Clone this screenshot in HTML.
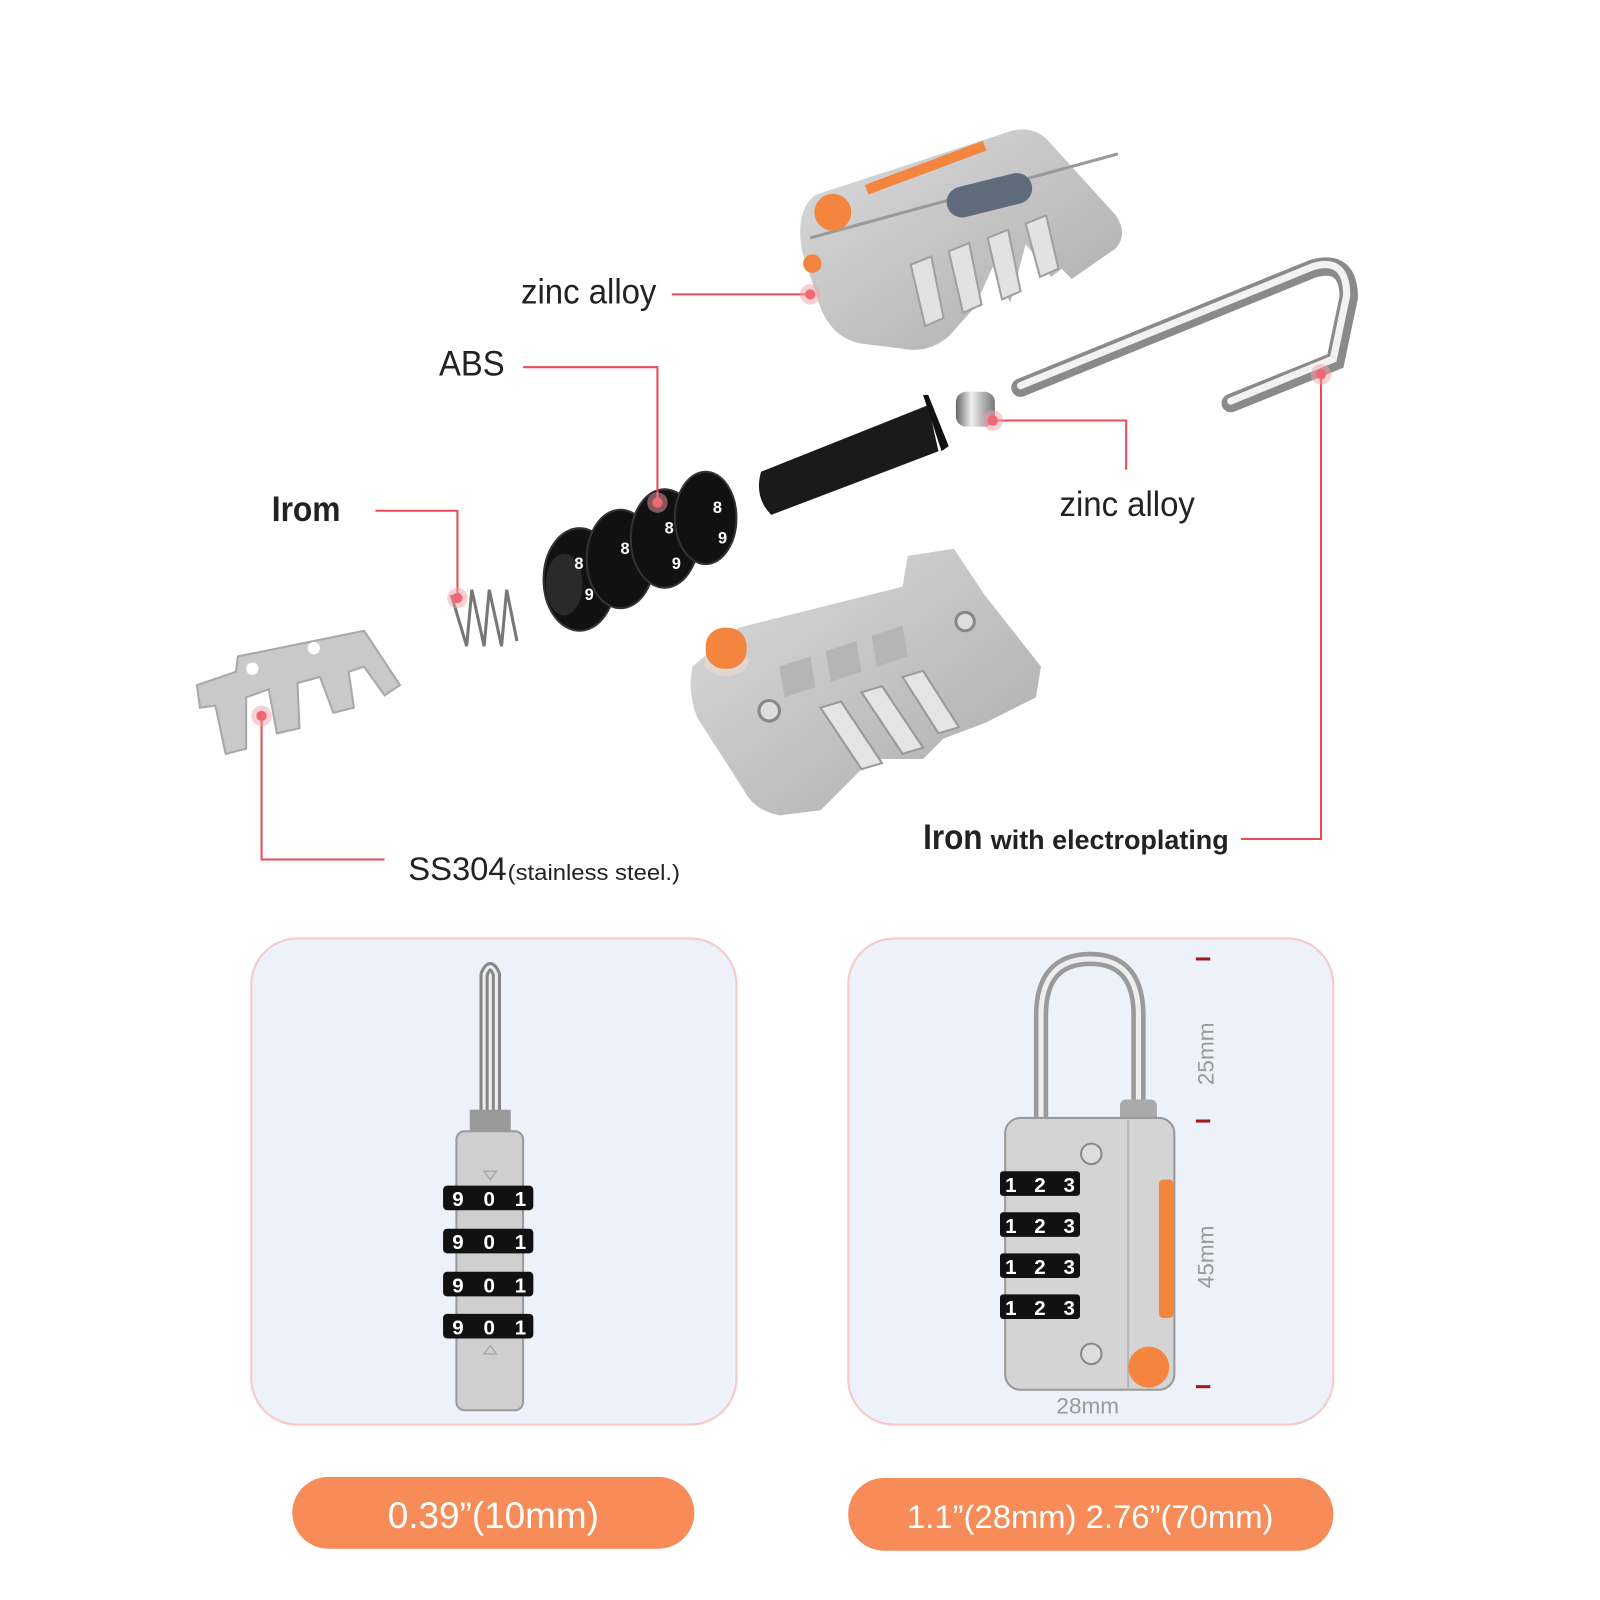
<!DOCTYPE html>
<html><head><meta charset="utf-8"><style>
html,body{margin:0;padding:0;background:#fff}
svg{display:block}
text{font-family:"Liberation Sans",sans-serif}
</style></head><body>
<svg width="1600" height="1600" viewBox="0 0 1560 1560" xmlns="http://www.w3.org/2000/svg">
<defs>
<linearGradient id="gm" x1="0" y1="0" x2="1" y2="1"><stop offset="0" stop-color="#dcdcdc"/><stop offset="1" stop-color="#ababab"/></linearGradient>
<linearGradient id="sh" x1="0" y1="0" x2="1" y2="0"><stop offset="0" stop-color="#666"/><stop offset=".4" stop-color="#eee"/><stop offset="1" stop-color="#777"/></linearGradient>
</defs>
<rect width="1560" height="1560" fill="#fff"/>

<!-- top housing -->
<path d="M795 190 L985 128 Q1005 122 1020 135 L1088 210 Q1100 228 1088 242 L1045 272 L1035 262 L1025 270 L1000 238 L985 295 L968 260 L950 300 L925 328 Q905 345 880 340 L840 335 Q812 330 800 300 L782 245 Q775 205 795 190Z" fill="url(#gm)"/>
<path d="M845 185 L960 142" stroke="#f4853f" stroke-width="10"/>
<path d="M790 232 L1090 150" stroke="#9a9a9a" stroke-width="3"/>
<circle cx="812" cy="207" r="18" fill="#f4853f"/>
<rect x="922" y="176" width="85" height="30" rx="15" fill="#5f6b7a" transform="rotate(-14 962 190)"/>
<g fill="#e2e2e2" stroke="#a0a0a0" stroke-width="2">
<path d="M888 258 l20 -8 l12 60 l-18 8z"/><path d="M925 245 l20 -8 l12 60 l-18 8z"/><path d="M963 232 l20 -8 l12 60 l-18 8z"/><path d="M1000 218 l20 -8 l12 52 l-18 8z"/>
</g>
<circle cx="792" cy="257" r="9" fill="#f4853f"/>

<!-- shackle -->
<path d="M995 378 L1280 262 Q1315 252 1315 290 L1302 352 L1200 393" stroke="#8a8a8a" stroke-width="18" fill="none" stroke-linecap="round"/>
<path d="M995 376 L1280 260 Q1313 250 1313 288 L1300 350 L1200 391" stroke="#f2f2f2" stroke-width="7" fill="none" stroke-linecap="round"/>
<!-- pin -->
<rect x="932" y="382" width="38" height="34" rx="10" fill="url(#sh)"/>
<!-- black cylinder -->
<path d="M742 460 L905 395 L915 440 L752 502 Q735 485 742 460Z" fill="#1a1a1a"/>
<path d="M900 385 L905 385 L925 435 L918 440Z" fill="#111"/>
<!-- dials -->
<g fill="#111" stroke="#333" stroke-width="2">
<ellipse cx="565" cy="565" rx="35" ry="50"/><ellipse cx="605" cy="545" rx="33" ry="48"/><ellipse cx="648" cy="525" rx="33" ry="48"/><ellipse cx="688" cy="505" rx="30" ry="45"/>
</g>
<ellipse cx="550" cy="570" rx="18" ry="30" fill="#2a2a2a"/>
<g fill="#fff" font-size="16" font-weight="bold"><text x="560" y="555">8</text><text x="570" y="585">9</text><text x="605" y="540">8</text><text x="648" y="520">8</text><text x="655" y="555">9</text><text x="695" y="500">8</text><text x="700" y="530">9</text></g>
<!-- spring -->
<path d="M440 580 l15 50 l5 -55 l12 55 l5 -55 l12 55 l5 -55 l10 50" stroke="#777" stroke-width="3" fill="none"/>
<!-- SS plate -->
<path d="M192 668 L230 655 L232 640 L355 615 L390 668 L375 678 L355 650 L340 655 L345 690 L325 695 L312 660 L290 666 L292 710 L270 715 L262 672 L240 680 L240 730 L220 735 L210 688 L195 690Z" fill="#c9c9c9" stroke="#a8a8a8" stroke-width="2"/>
<circle cx="246" cy="652" r="6" fill="#fff"/><circle cx="306" cy="632" r="6" fill="#fff"/>
<!-- bottom housing -->
<path d="M675 650 L720 612 L880 572 L885 542 L930 535 L960 580 L1015 650 L1010 680 L960 705 L920 720 L900 740 L850 740 L820 770 L800 790 L760 795 Q735 790 725 770 L680 700 Q670 675 675 650Z" fill="url(#gm)"/>
<g fill="#b5b5b5"><path d="M760 650 l30 -10 l5 30 l-30 10z"/><path d="M805 635 l30 -10 l5 30 l-30 10z"/><path d="M850 620 l30 -10 l5 30 l-30 10z"/></g>
<g fill="#e4e4e4" stroke="#999" stroke-width="2"><path d="M800 690 l20 -6 l40 60 l-20 6z"/><path d="M840 675 l20 -6 l40 60 l-20 6z"/><path d="M880 660 l20 -6 l35 55 l-20 6z"/></g>
<circle cx="750" cy="693" r="10" fill="#ddd" stroke="#888" stroke-width="3"/><circle cx="941" cy="606" r="9" fill="#ddd" stroke="#888" stroke-width="3"/>
<ellipse cx="708" cy="645" rx="22" ry="14" fill="#e0d8d0"/>
<rect x="688" y="612" width="40" height="40" rx="18" fill="#f4853f"/>

<!-- callouts -->
<g stroke="#e84a57" stroke-width="2" fill="none">
<path d="M655 287 H790"/><path d="M510 358 H641 V490"/><path d="M366 498 H446 V583"/>
<path d="M968 410 H1098 V458"/><path d="M1210 818 H1288 V365"/><path d="M255 698 V838 H375"/>
</g>
<g fill="#e8303f"><circle cx="790" cy="287" r="5"/><circle cx="641" cy="490" r="5"/><circle cx="446" cy="583" r="5"/><circle cx="968" cy="410" r="5"/><circle cx="1288" cy="365" r="5"/><circle cx="255" cy="698" r="5"/></g>
<g fill="#f5a0a8" opacity=".5"><circle cx="790" cy="287" r="10"/><circle cx="641" cy="490" r="10"/><circle cx="446" cy="583" r="10"/><circle cx="968" cy="410" r="10"/><circle cx="1288" cy="365" r="10"/><circle cx="255" cy="698" r="10"/></g>
<g fill="#222">
<text x="508" y="296" font-size="34" textLength="132" lengthAdjust="spacingAndGlyphs">zinc alloy</text>
<text x="428" y="366" font-size="34" textLength="64" lengthAdjust="spacingAndGlyphs">ABS</text>
<text x="265" y="508" font-size="34" font-weight="bold" textLength="67" lengthAdjust="spacingAndGlyphs">Irom</text>
<text x="1033" y="503" font-size="34" textLength="132" lengthAdjust="spacingAndGlyphs">zinc alloy</text>
<text x="900" y="828" font-size="34" font-weight="bold" textLength="58" lengthAdjust="spacingAndGlyphs">Iron</text>
<text x="966" y="828" font-size="26" font-weight="bold" textLength="232" lengthAdjust="spacingAndGlyphs">with electroplating</text>
<text x="398" y="858" font-size="32" textLength="96" lengthAdjust="spacingAndGlyphs">SS304</text>
<text x="495" y="858" font-size="22" textLength="168" lengthAdjust="spacingAndGlyphs">(stainless steel.)</text>
</g>

<!-- panels -->
<rect x="245" y="915" width="473" height="474" rx="45" fill="#edf1fa" stroke="#f6c8c8" stroke-width="2"/>
<rect x="827" y="915" width="473" height="474" rx="45" fill="#edf1fa" stroke="#f6c8c8" stroke-width="2"/>

<!-- left lock -->
<path d="M472 1100 V950 Q478 935 484 950 V1100" stroke="#888" stroke-width="9" fill="none"/>
<path d="M472 1100 V950 Q478 935 484 950 V1100" stroke="#eee" stroke-width="3" fill="none"/>
<rect x="458" y="1082" width="40" height="26" fill="#999"/>
<rect x="445" y="1103" width="65" height="272" rx="8" fill="#cfcfcf" stroke="#9a9a9a" stroke-width="2"/>
<g fill="#111"><rect x="432" y="1156" width="88" height="24" rx="4"/><rect x="432" y="1198" width="88" height="24" rx="4"/><rect x="432" y="1240" width="88" height="24" rx="4"/><rect x="432" y="1281" width="88" height="24" rx="4"/></g>
<g fill="#fff" font-size="20" font-weight="bold"><text x="441" y="1176" textLength="72" lengthAdjust="spacing">9 0 1</text><text x="441" y="1218" textLength="72" lengthAdjust="spacing">9 0 1</text><text x="441" y="1260" textLength="72" lengthAdjust="spacing">9 0 1</text><text x="441" y="1301" textLength="72" lengthAdjust="spacing">9 0 1</text></g>
<g fill="none" stroke="#aaa" stroke-width="1.5"><path d="M472 1142 l6 8 l6 -8z"/><path d="M472 1320 l6 -8 l6 8z"/></g>

<!-- right lock -->
<path d="M1015 1100 V990 Q1015 935 1063 935 Q1110 935 1110 990 V1080" stroke="#9a9a9a" stroke-width="14" fill="none"/>
<path d="M1015 1100 V990 Q1015 935 1063 935 Q1110 935 1110 990 V1080" stroke="#eee" stroke-width="5" fill="none"/>
<rect x="1092" y="1072" width="36" height="24" rx="6" fill="#aaa"/>
<rect x="980" y="1090" width="165" height="265" rx="15" fill="#d4d4d4" stroke="#999" stroke-width="2"/>
<line x1="1100" y1="1092" x2="1100" y2="1353" stroke="#b5b5b5" stroke-width="2"/>
<rect x="1130" y="1150" width="14" height="135" rx="4" fill="#f4853f"/>
<circle cx="1120" cy="1333" r="20" fill="#f4853f"/>
<circle cx="1064" cy="1125" r="10" fill="#ddd" stroke="#888" stroke-width="2"/><circle cx="1064" cy="1320" r="10" fill="#ddd" stroke="#888" stroke-width="2"/>
<g fill="#111"><rect x="975" y="1142" width="78" height="24" rx="3"/><rect x="975" y="1182" width="78" height="24" rx="3"/><rect x="975" y="1222" width="78" height="24" rx="3"/><rect x="975" y="1262" width="78" height="24" rx="3"/></g>
<g fill="#fff" font-size="20" font-weight="bold"><text x="980" y="1162" textLength="68" lengthAdjust="spacing">1 2 3</text><text x="980" y="1202" textLength="68" lengthAdjust="spacing">1 2 3</text><text x="980" y="1242" textLength="68" lengthAdjust="spacing">1 2 3</text><text x="980" y="1282" textLength="68" lengthAdjust="spacing">1 2 3</text></g>
<g stroke="#a01c1c" stroke-width="3"><line x1="1166" y1="935" x2="1180" y2="935"/><line x1="1166" y1="1093" x2="1180" y2="1093"/><line x1="1166" y1="1352" x2="1180" y2="1352"/></g>
<g fill="#999" font-size="22"><text transform="translate(1183 1058) rotate(-90)">25mm</text><text transform="translate(1183 1256) rotate(-90)">45mm</text><text x="1030" y="1378">28mm</text></g>

<!-- pills -->
<rect x="285" y="1440" width="392" height="70" rx="35" fill="#f78c58"/>
<rect x="827" y="1441" width="473" height="71" rx="35" fill="#f78c58"/>
<g fill="#fff" text-anchor="middle"><text x="481" y="1490" font-size="36">0.39”(10mm)</text><text x="1063" y="1490" font-size="32">1.1”(28mm) 2.76”(70mm)</text></g>
</svg>
</body></html>
